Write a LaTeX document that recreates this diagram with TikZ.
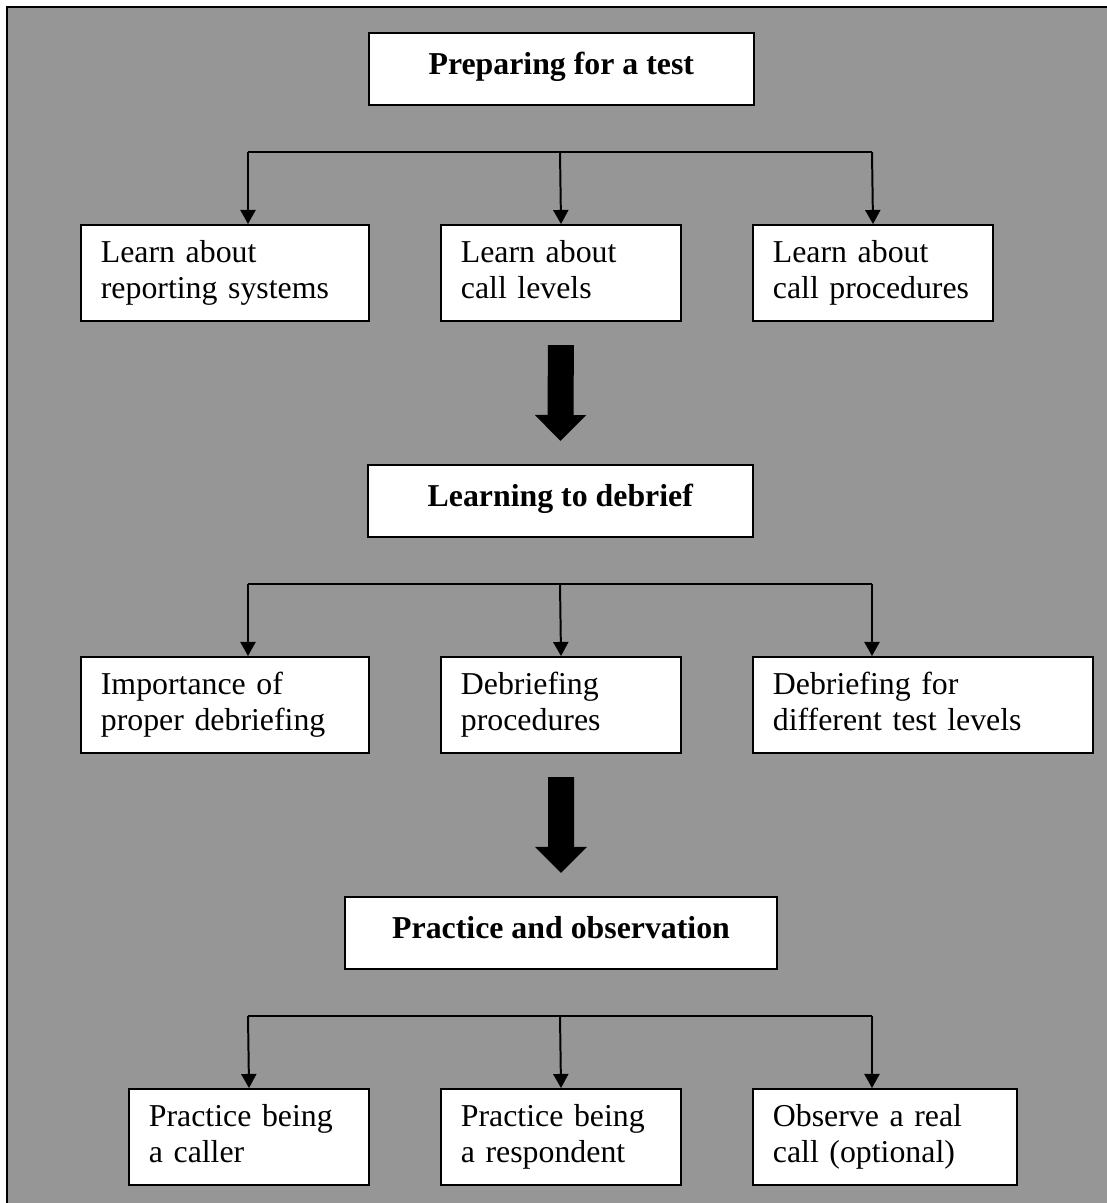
\documentclass[tikz,border=0pt]{standalone}
\usepackage{fontspec}
\setmainfont{Liberation Serif}
\usetikzlibrary{arrows.meta}
\definecolor{panelgray}{RGB}{150,150,150}

\begin{document}
\begin{tikzpicture}[
  x=0.377pt, y=-0.377pt,
  font=\fontsize{12pt}{13.5pt}\selectfont,
  box/.style={rectangle, draw, fill=white, line width=0.75pt, anchor=north west, align=left, inner xsep=7.5pt, minimum height=36.2pt, text width=#1, execute at begin node=\strut, execute at end node=\strut},
  head/.style={rectangle, draw, fill=white, line width=0.75pt, anchor=north west, font=\fontsize{12pt}{13.5pt}\selectfont\bfseries, minimum width=#1, minimum height=27.1pt, text height=9pt, text depth=5pt},
  link/.style={line width=0.75pt},
  arr/.style={-{Triangle[length=5.3pt, width=5.7pt]}, line width=0.75pt},
  bigarr/.style={-{Triangle[length=9.8pt, width=18.9pt]}, line width=9.8pt, shorten <=8.7pt, shorten >=8.7pt},
]

% Page and grey panel
\clip (0,0) rectangle (1107,1203);
\draw[fill=panelgray, line width=0.75pt] (7,7) rectangle (1140,1240);

% Stage 1: Preparing
\node[head=145pt] (prep) at (368,32) {Preparing for a test};
\coordinate (fork1) at (560,152);
\coordinate (fork1l) at (248,152);
\coordinate (fork1r) at (872,152);
\node[box=93.6pt] (reporting) at (80,224) {Learn about\\reporting systems};
\node[box=75.5pt] (levels) at (440,224) {Learn about\\call levels};
\node[box=75.5pt] (procedures) at (752,224) {Learn about\\call procedures};

% Stage 2: Debriefing
\node[head=145pt] (debrief) at (367,464) {Learning to debrief};
\coordinate (fork2) at (560,584);
\coordinate (fork2l) at (248,584);
\coordinate (fork2r) at (872,584);
\node[box=93.6pt] (importance) at (80,656) {Importance of\\proper debriefing};
\node[box=75.5pt] (dbproc) at (440,656) {Debriefing\\procedures};
\node[box=113.2pt] (dblevels) at (752,656) {Debriefing for\\different test levels};

% Stage 3: Practice
\node[head=162.9pt] (practice) at (344,896) {Practice and observation};
\coordinate (fork3) at (560,1016);
\coordinate (fork3l) at (248,1016);
\coordinate (fork3r) at (872,1016);
\node[box=75.5pt] (caller) at (128,1088) {Practice being\\a caller};
\node[box=75.5pt] (respondent) at (440,1088) {Practice being\\a respondent};
\node[box=84.5pt] (observe) at (752,1088) {Observe a real\\call (optional)};

% Forks
\draw[link] (fork1l) -- (fork1r);
\draw[arr] (fork1l) -- (fork1l |- reporting.north);
\draw[arr] (fork1) -- (levels.north);
\draw[arr] (fork1r) -- (procedures.north);

\draw[link] (fork2l) -- (fork2r);
\draw[arr] (fork2l) -- (fork2l |- importance.north);
\draw[arr] (fork2) -- (dbproc.north);
\draw[arr] (fork2r) -- (fork2r |- dblevels.north);

\draw[link] (fork3l) -- (fork3r);
\draw[arr] (fork3l) -- (caller.north);
\draw[arr] (fork3) -- (respondent.north);
\draw[arr] (fork3r) -- (fork3r |- observe.north);

% Stage arrows
\draw[bigarr] (levels.south) -- (debrief.north);
\draw[bigarr] (dbproc.south) -- (practice.north);

\end{tikzpicture}
\end{document}
